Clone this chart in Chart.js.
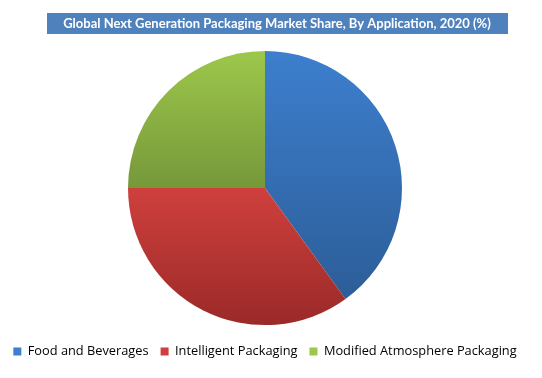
<!DOCTYPE html>
<html>
<head>
<meta charset="utf-8">
<script src="https://cdn.jsdelivr.net/npm/chart.js@4.4.0/dist/chart.umd.min.js"></script>
<style>
  html, body { margin: 0; padding: 0; background: #fff; }
  #wrap { width: 542px; height: 378px; }
</style>
</head>
<body>
<div id="wrap"><canvas id="share_chart"></canvas></div>
<script>
var chartTitle = "Global Next Generation Packaging Market Share, By Application, 2020 (%)";
var labels = ["Food and Beverages", "Intelligent Packaging", "Modified Atmosphere Packaging"];
var shares = [40, 35, 25];
var topColors = ["#3d7fce", "#cf403d", "#9dc74b"];
var bottomColors = ["#2c5d98", "#9a2a28", "#76983a"];

// each slice gets its own top-to-bottom gradient, like the office chart
var sliceGradient = {
    id: 'sliceGradient',
    beforeDatasetsDraw: function(chart) {
        var ctx = chart.ctx;
        var arcs = chart.getDatasetMeta(0).data;
        for (var i = 0; i < arcs.length; i++) {
            var a = arcs[i];
            var r = a.outerRadius;
            var ys = [a.y, a.y + r * Math.sin(a.startAngle), a.y + r * Math.sin(a.endAngle)];
            for (var k = -2; k <= 2; k++) {
                var ang = Math.PI / 2 + k * Math.PI;
                if (ang > a.startAngle && ang < a.endAngle) ys.push(a.y + r * Math.sin(ang));
            }
            var top = Math.min.apply(null, ys);
            var bot = Math.max.apply(null, ys);
            var g = ctx.createLinearGradient(0, top, 0, bot);
            g.addColorStop(0, topColors[i]);
            g.addColorStop(1, bottomColors[i]);
            a.options.backgroundColor = g;
        }
    }
};

var titleBox = {
    id: 'titleBox',
    afterDraw: function(chart) {
        var ctx = chart.ctx;
        ctx.save();
        ctx.fillStyle = "#4f81bd";
        ctx.fillRect(47, 13, 461, 21);
        ctx.fillStyle = "#ffffff";
        ctx.font = "bold 13px Lato";
        ctx.textAlign = "center";
        ctx.textBaseline = "middle";
        ctx.fillText(chartTitle, 277, 24);
        ctx.restore();
    }
};

var ctxShare = document.getElementById("share_chart").getContext("2d");

var share_chart = new Chart(ctxShare, {
    type: 'pie',
    data: {
        labels: labels,
        datasets: [{
            data: shares,
            backgroundColor: topColors,
            borderWidth: 0,
            radius: 137
        }]
    },
    options: {
        responsive: true,
        maintainAspectRatio: false,
        animation: false,
        layout: { padding: { top: 43, left: 0, right: 12, bottom: 10 } },
        plugins: {
            title: { display: false },
            tooltip: { enabled: false },
            legend: {
                position: 'bottom',
                labels: {
                    font: { family: "Open Sans", size: 12.8 },
                    color: "#222",
                    boxWidth: 8,
                    boxHeight: 8,
                    padding: 12,
                    generateLabels: function(chart) {
                        return labels.map(function(l, i) {
                            return { text: l, fillStyle: topColors[i], strokeStyle: topColors[i], lineWidth: 0, index: i };
                        });
                    }
                }
            }
        }
    },
    plugins: [sliceGradient, titleBox]
});
</script>
</body>
</html>
